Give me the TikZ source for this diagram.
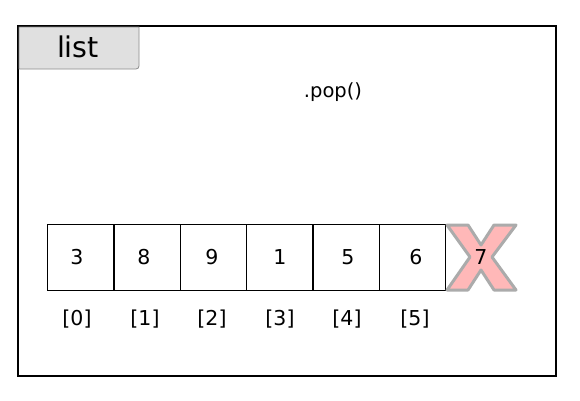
\documentclass[tikz,border=0pt]{standalone}
\usepackage{fontspec}
\setmainfont{DejaVu Sans}
\begin{document}
\begin{tikzpicture}[x=1pt,y=-1pt,
  cell/.style={draw=black,line width=1.3pt,minimum width=66.3pt,minimum height=66pt,inner sep=0pt,anchor=north west},
  num/.style={font=\fontsize{20.5}{22}\selectfont},
  idx/.style={font=\fontsize{20.5}{22}\selectfont}]
\useasboundingbox (0,0) rectangle (580,400);
\draw[line width=2pt] (18,26) rectangle (556,376);
\draw[fill=black!12,draw=black!45,line width=0.8pt] (19,27) -- (139,27) [rounded corners=3pt]-- (139,69) [sharp corners]-- (19,69) -- cycle;
\node[font=\fontsize{28.5}{30}\selectfont] (title) at (78,47) {list};
\node[font=\fontsize{19.5}{21}\selectfont] (op) at (333,92) {.pop()};
\foreach \i/\v/\tx in {0/3/77,1/8/144,2/9/212,3/1/280,4/5/348,5/6/416}{
  \node[cell] (c\i) at (47+66.3*\i,224) {};
  \node[num] (n\i) at (\tx,257) {\v};
}
\foreach \i/\tx in {0/77,1/145,2/212,3/280,4/347,5/415}{
  \node[idx] (i\i) at (\tx,319) {[\i]};
}
\draw[fill=red!28,draw=black!33,line width=3pt,line join=round]
  (447,225) -- (468,225) -- (481,245) -- (494,225) -- (516,225) -- (492,257) -- (516,290)
  -- (494,290) -- (481,270) -- (468,290) -- (447,290) -- (470,257) -- cycle;
\node[num] (n6) at (481,257) {7};
\end{tikzpicture}
\end{document}
